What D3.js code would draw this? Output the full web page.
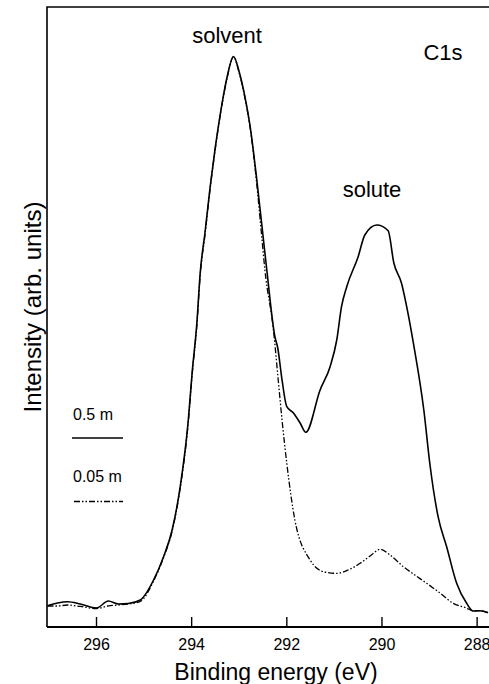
<!DOCTYPE html>
<html>
<head>
<meta charset="utf-8">
<script src="https://cdn.jsdelivr.net/npm/d3@7"></script>
<style>
  html, body { margin: 0; padding: 0; background: #fff; }
  svg { display: block; font-family: "Liberation Sans", Arial, Helvetica, sans-serif; }
</style>
</head>
<body>
<svg id="chart" width="489" height="684"></svg>
<script>
// Binding energies (eV) and intensities (arb. units)
const conc05E = [297.02,296.81,296.60,296.33,295.99,295.74,295.53,295.32,295.07,294.79,294.58,294.40,294.23,294.06,293.98,293.88,293.81,293.71,293.60,293.50,293.35,293.24,293.11,292.99,292.87,292.76,292.62,292.48,292.41,292.24,292.18,292.09,291.99,291.85,291.71,291.59,291.29,291.08,290.94,290.84,290.73,290.49,290.35,290.10,289.86,289.74,289.58,289.47,289.33,289.11,288.98,288.81,288.63,288.42,288.21,288.07,287.93,287.76];
const conc05I = [3.44,3.87,4.08,3.71,3.06,4.19,3.71,3.79,4.35,7.58,11.34,15.65,22.63,33.39,40.97,49.03,57.10,63.55,71.02,76.94,84.47,88.87,92.02,89.52,85.53,80.69,72.10,62.42,57.58,46.82,45.00,39.84,35.53,34.52,32.90,31.40,38.23,41.98,46.29,51.66,54.89,59.73,63.23,64.84,63.92,58.71,55.48,51.66,45.81,35.00,26.13,17.79,12.95,7.05,3.82,2.58,2.63,2.31];

const conc005E = [297.02,296.81,296.60,296.33,295.99,295.74,295.53,295.32,295.07,294.79,294.58,294.40,294.23,294.06,293.98,293.88,293.81,293.71,293.60,293.50,293.35,293.24,293.11,292.99,292.87,292.76,292.63,292.51,292.45,292.27,292.17,292.09,291.99,291.82,291.50,291.22,290.94,290.70,290.45,290.24,290.03,289.82,289.54,289.30,289.05,288.77,288.49,288.21,288.07,287.93,287.76];
const conc005I = [3.39,3.39,3.55,3.31,2.98,3.39,3.55,3.71,4.11,7.42,11.21,15.48,22.42,33.06,40.65,48.71,56.77,63.23,70.81,76.77,84.35,88.71,91.94,89.35,85.32,80.48,72.10,62.42,57.58,47.90,39.84,33.39,26.40,17.26,10.81,8.92,8.66,9.19,10.27,11.45,12.53,11.61,9.73,8.39,7.05,5.48,3.82,3.06,2.58,2.63,2.31];

const xTicks = [296, 294, 292, 290, 288];
const seriesNames = ["0.5 m", "0.05 m"];
const peakLabels = ["solvent", "solute"];
const panelLabel = "C1s";
const xTitle = "Binding energy (eV)";
const yTitle = "Intensity (arb. units)";

const svg = d3.select("#chart");
const L = 47, R = 489, T = 7, B = 627;

const x = d3.scaleLinear().domain([297.03, 287.74]).range([L, R]);
const y = d3.scaleLinear().domain([0, 100]).range([B, T]);

svg.append("defs").append("clipPath").attr("id", "plotclip")
  .append("rect").attr("x", L).attr("y", T).attr("width", R - L).attr("height", B - T);

// frame (left, top, bottom)
svg.append("path")
  .attr("d", `M${L},${B} L${L},${T} L${R},${T}`)
  .attr("fill", "none").attr("stroke", "#000").attr("stroke-width", 1.6);

// bottom axis
const xAxis = d3.axisBottom(x).tickValues(xTicks).tickSizeInner(-10).tickSizeOuter(0).tickPadding(12)
  .tickFormat(d3.format("d"));
const gx = svg.append("g").attr("transform", `translate(0,${B})`).call(xAxis);
gx.select(".domain").attr("stroke-width", 1.8).attr("d", `M${L},0H${R}`);
gx.selectAll(".tick line").attr("stroke-width", 1.4);
gx.selectAll(".tick text").attr("font-size", 16).attr("font-family", "Liberation Sans, Arial, sans-serif").attr("fill", "#000");

// curves
const line = d3.line().x(d => x(d[0])).y(d => y(d[1])).curve(d3.curveMonotoneX);
const solidData = conc05E.map((e, i) => [e, conc05I[i]]);
const dilData = conc005E.map((e, i) => [e, conc005I[i]]);
const plot = svg.append("g").attr("clip-path", "url(#plotclip)");
const dashPattern = "6,2,1.5,2,1.5,2";
plot.append("path").datum(dilData).attr("d", line)
  .attr("fill", "none").attr("stroke", "#000").attr("stroke-width", 1.3)
  .attr("stroke-dasharray", dashPattern);
plot.append("path").datum(solidData).attr("d", line)
  .attr("fill", "none").attr("stroke", "#000").attr("stroke-width", 1.6)
  .attr("stroke-linejoin", "round");

// labels
svg.append("text").attr("x", 227).attr("y", 43).attr("text-anchor", "middle")
  .attr("font-size", 22).text(peakLabels[0]);
svg.append("text").attr("x", 372).attr("y", 197).attr("text-anchor", "middle")
  .attr("font-size", 22).text(peakLabels[1]);
svg.append("text").attr("x", 443).attr("y", 60).attr("text-anchor", "middle")
  .attr("font-size", 22).text(panelLabel);

// legend
const legend = svg.append("g");
legend.append("text").attr("x", 73).attr("y", 420).attr("font-size", 16).text(seriesNames[0]);
legend.append("line").attr("x1", 72).attr("x2", 123).attr("y1", 438).attr("y2", 438)
  .attr("stroke", "#000").attr("stroke-width", 1.6);
legend.append("text").attr("x", 73).attr("y", 482).attr("font-size", 16).text(seriesNames[1]);
legend.append("line").attr("x1", 74).attr("x2", 123).attr("y1", 501.5).attr("y2", 501.5)
  .attr("stroke", "#000").attr("stroke-width", 1.3).attr("stroke-dasharray", dashPattern);

// axis titles
svg.append("text").attr("x", 276).attr("y", 680).attr("text-anchor", "middle")
  .attr("font-size", 23).text(xTitle);
svg.append("text").attr("transform", `translate(41,307) rotate(-90)`).attr("text-anchor", "middle")
  .attr("font-size", 24).text(yTitle);
</script>
</body>
</html>
